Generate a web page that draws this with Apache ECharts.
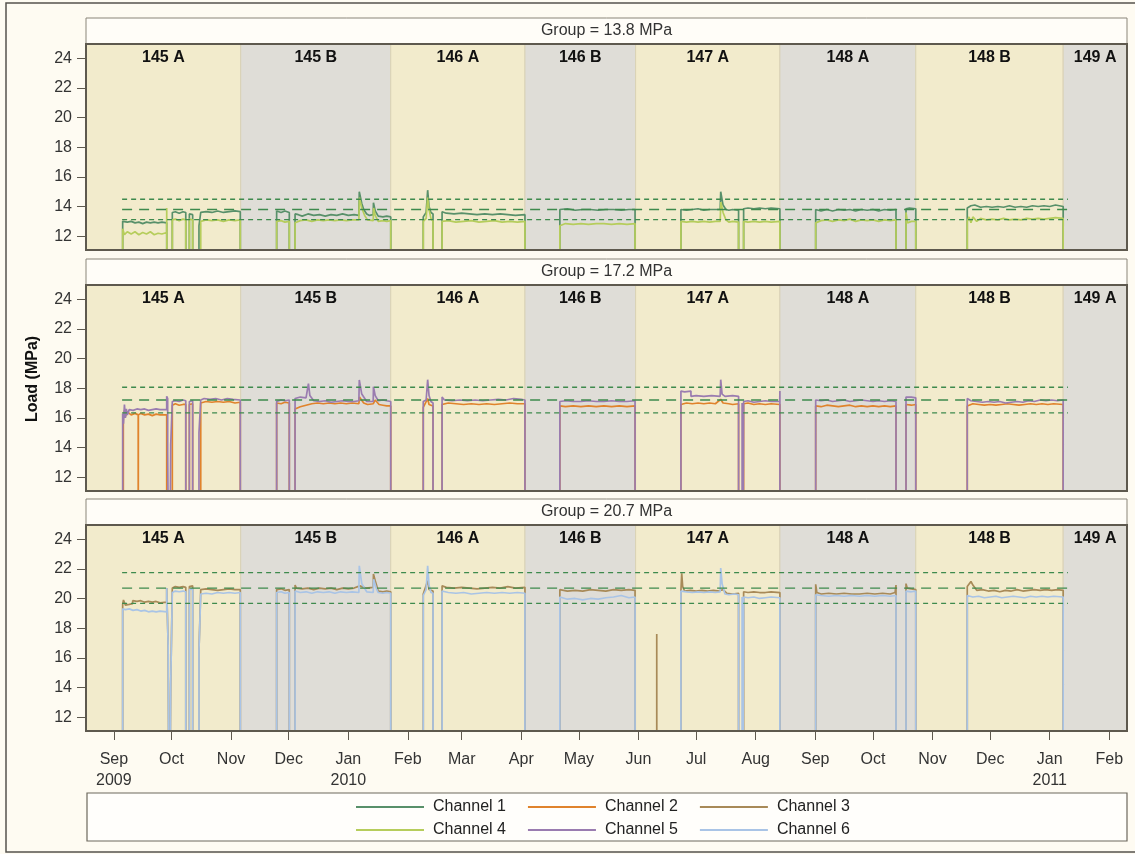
<!DOCTYPE html>
<html><head><meta charset="utf-8">
<script src="https://cdn.jsdelivr.net/npm/echarts@6/dist/echarts.min.js"></script>
<style>html,body{margin:0;padding:0;background:#fff}#c{width:1135px;height:854px}</style>
</head><body><div id="c"></div>
<script>
// ---------- DATA ----------
const groups = ['Group = 13.8 MPa', 'Group = 17.2 MPa', 'Group = 20.7 MPa'];
const refLevels138 = [13.11, 13.80, 14.49];
const refLevels172 = [16.34, 17.20, 18.06];
const refLevels207 = [19.67, 20.70, 21.74];
const refSpan = ['2009-09-05 07:00', '2011-01-10 12:00'];
const bandNames = ['145 A','145 B','146 A','146 B','147 A','148 A','148 B','149 A'];
const bandEdges = ['2009-08-17 12:00','2009-11-06 00:00','2010-01-23 02:00','2010-04-02 22:00','2010-05-30 12:00','2010-08-13 14:00','2010-10-23 07:00','2011-01-08 00:00','2011-02-10 05:00'];
const monthTicks = ['2009-09-01','2009-10-01','2009-11-01','2009-12-01','2010-01-01','2010-02-01','2010-03-01','2010-04-01','2010-05-01','2010-06-01','2010-07-01','2010-08-01','2010-09-01','2010-10-01','2010-11-01','2010-12-01','2011-01-01','2011-02-01'];
const monthLabels = ['Sep\n2009','Oct','Nov','Dec','Jan\n2010','Feb','Mar','Apr','May','Jun','Jul','Aug','Sep','Oct','Nov','Dec','Jan\n2011','Feb'];
const yTicks = [12,14,16,18,20,22,24];
const channelNames = ['Channel 1','Channel 2','Channel 3','Channel 4','Channel 5','Channel 6'];

const ch1 = [
['2009-09-05 14:00',0],['2009-09-05 14:00',13.0],['2009-09-06',13.1],['2009-09-08',12.95],['2009-09-10',13.0],['2009-09-12',12.9],['2009-09-14',12.95],['2009-09-16',12.85],['2009-09-18',12.95],['2009-09-20',12.9],['2009-09-22',12.95],['2009-09-24',12.9],['2009-09-26',12.95],['2009-09-28 12:00',12.9],['2009-09-28 12:00',0],
['2009-10-01 10:00',0],['2009-10-01 10:00',13.6],['2009-10-02',13.5],['2009-10-03',13.65],['2009-10-05',13.55],['2009-10-07',13.65],['2009-10-08 10:00',13.6],['2009-10-08 10:00',0],
['2009-10-10 07:00',0],['2009-10-10 07:00',13.5],['2009-10-12',13.45],['2009-10-12',0],
['2009-10-15 07:00',0],['2009-10-15 07:00',12.7],['2009-10-16 05:00',12.7],['2009-10-16 05:00',13.6],['2009-10-19',13.65],['2009-10-22',13.6],['2009-10-25',13.7],['2009-10-28',13.6],['2009-10-31',13.65],['2009-11-03',13.7],['2009-11-05 19:00',13.65],['2009-11-05 19:00',0],
['2009-11-24 17:00',0],['2009-11-24 17:00',13.7],['2009-11-27',13.6],['2009-11-29',13.7],['2009-12-01 07:00',13.6],['2009-12-01 07:00',0],
['2009-12-04 07:00',0],['2009-12-04 07:00',13.5],['2009-12-06',13.45],['2009-12-08',13.35],['2009-12-11',13.5],['2009-12-14',13.4],['2009-12-17',13.45],['2009-12-20',13.35],['2009-12-23',13.45],['2009-12-26',13.4],['2009-12-29',13.5],['2010-01-01',13.4],['2010-01-04',13.45],['2010-01-06 12:00',13.4],['2010-01-06 17:00',15.0],['2010-01-08',14.2],['2010-01-09',13.8],['2010-01-10 14:00',13.5],['2010-01-12',13.4],['2010-01-13 23:00',13.45],['2010-01-14 02:00',14.25],['2010-01-15',13.7],['2010-01-16 14:00',13.35],['2010-01-19',13.3],['2010-01-21',13.35],['2010-01-23 02:00',13.3],['2010-01-23 02:00',0],
['2010-02-09',0],['2010-02-09',13.3],['2010-02-10 12:00',13.6],['2010-02-11 07:00',15.1],['2010-02-12',14.0],['2010-02-13',13.6],['2010-02-14 02:00',13.5],['2010-02-14 02:00',0],
['2010-02-18 19:00',0],['2010-02-18 19:00',13.65],['2010-02-21',13.55],['2010-02-25',13.5],['2010-03-01',13.55],['2010-03-05',13.5],['2010-03-09',13.45],['2010-03-13',13.5],['2010-03-17',13.45],['2010-03-21',13.5],['2010-03-25',13.45],['2010-03-29',13.4],['2010-04-02 22:00',13.45],['2010-04-02 22:00',0],
['2010-04-21 02:00',0],['2010-04-21 02:00',13.8],['2010-04-25',13.85],['2010-04-29',13.75],['2010-05-03',13.8],['2010-05-07',13.8],['2010-05-11',13.75],['2010-05-15',13.8],['2010-05-19',13.8],['2010-05-23',13.75],['2010-05-27',13.8],['2010-05-30 05:00',13.8],['2010-05-30 05:00',0],
['2010-06-23 02:00',0],['2010-06-23 02:00',13.8],['2010-06-26',13.75],['2010-06-29',13.8],['2010-07-02',13.85],['2010-07-05',13.75],['2010-07-08',13.8],['2010-07-11',13.8],['2010-07-13 12:00',13.8],['2010-07-13 19:00',15.0],['2010-07-15',14.1],['2010-07-16 12:00',13.8],['2010-07-18',13.75],['2010-07-20',13.8],['2010-07-23 02:00',13.75],['2010-07-23 02:00',0],
['2010-07-25 17:00',0],['2010-07-25 17:00',13.85],['2010-07-28',13.9],['2010-07-31',13.85],['2010-08-03',13.9],['2010-08-06',13.85],['2010-08-09',13.9],['2010-08-13 14:00',13.85],['2010-08-13 14:00',0],
['2010-09-01 05:00',0],['2010-09-01 05:00',13.8],['2010-09-04',13.7],['2010-09-07',13.8],['2010-09-10',13.7],['2010-09-13',13.8],['2010-09-16',13.75],['2010-09-19',13.8],['2010-09-22',13.7],['2010-09-25',13.8],['2010-09-28',13.75],['2010-10-01',13.8],['2010-10-04',13.7],['2010-10-07',13.8],['2010-10-10',13.75],['2010-10-13',13.8],['2010-10-13',0],
['2010-10-18 05:00',0],['2010-10-18 05:00',13.85],['2010-10-20',13.9],['2010-10-23 07:00',13.85],['2010-10-23 07:00',0],
['2010-11-19 02:00',0],['2010-11-19 02:00',13.9],['2010-11-21',14.05],['2010-11-23',14.1],['2010-11-26',13.95],['2010-11-29',14.0],['2010-12-02',13.95],['2010-12-05',14.0],['2010-12-08',13.95],['2010-12-11',14.05],['2010-12-14',13.95],['2010-12-17',14.0],['2010-12-20',13.95],['2010-12-23',14.05],['2010-12-26',14.0],['2010-12-29',14.05],['2011-01-01',14.0],['2011-01-04',14.1],['2011-01-08',14.0],['2011-01-08',0]
];

const ch4 = [
['2009-09-05 14:00',0],['2009-09-05 14:00',12.5],['2009-09-06 12:00',12.1],['2009-09-08',12.3],['2009-09-10',12.15],['2009-09-12',12.3],['2009-09-14',12.1],['2009-09-16',12.25],['2009-09-18',12.15],['2009-09-20',12.3],['2009-09-22',12.1],['2009-09-24',12.2],['2009-09-26',12.15],['2009-09-28 12:00',12.25],['2009-09-28 12:00',13.9],['2009-09-29',13.8],['2009-09-29',0],
['2009-10-01 10:00',0],['2009-10-01 10:00',13.1],['2009-10-03',13.15],['2009-10-05',13.05],['2009-10-07',13.15],['2009-10-08 10:00',13.1],['2009-10-08 10:00',0],
['2009-10-10 07:00',0],['2009-10-10 07:00',13.15],['2009-10-11',13.2],['2009-10-12',13.1],['2009-10-12',0],
['2009-10-16 05:00',0],['2009-10-16 05:00',13.0],['2009-10-19',13.1],['2009-10-22',13.05],['2009-10-25',13.1],['2009-10-28',13.0],['2009-10-31',13.1],['2009-11-03',13.05],['2009-11-05 19:00',13.1],['2009-11-05 19:00',0],
['2009-11-24 17:00',0],['2009-11-24 17:00',13.0],['2009-11-27',13.05],['2009-11-29',12.95],['2009-12-01 07:00',13.0],['2009-12-01 07:00',0],
['2009-12-04 07:00',0],['2009-12-04 07:00',12.9],['2009-12-07',13.05],['2009-12-10',13.1],['2009-12-13',13.0],['2009-12-16',13.1],['2009-12-19',13.05],['2009-12-22',13.1],['2009-12-25',13.05],['2009-12-28',13.1],['2009-12-31',13.05],['2010-01-03',13.1],['2010-01-06 12:00',13.1],['2010-01-06 19:00',14.6],['2010-01-08',13.9],['2010-01-09 12:00',13.4],['2010-01-11',13.1],['2010-01-13 23:00',13.05],['2010-01-14 04:00',13.9],['2010-01-15',13.4],['2010-01-16 14:00',13.0],['2010-01-19',13.05],['2010-01-21',13.0],['2010-01-23 02:00',13.05],['2010-01-23 02:00',0],
['2010-02-09',0],['2010-02-09',13.0],['2010-02-10 12:00',13.2],['2010-02-11 07:00',14.6],['2010-02-12',13.8],['2010-02-13',13.2],['2010-02-14 02:00',13.0],['2010-02-14 02:00',0],
['2010-02-18 19:00',0],['2010-02-18 19:00',13.0],['2010-02-22',13.05],['2010-02-26',12.95],['2010-03-02',13.0],['2010-03-06',13.05],['2010-03-10',12.95],['2010-03-14',13.0],['2010-03-18',13.05],['2010-03-22',12.95],['2010-03-26',13.0],['2010-03-30',12.95],['2010-04-02 22:00',13.0],['2010-04-02 22:00',0],
['2010-04-21 02:00',0],['2010-04-21 02:00',12.7],['2010-04-24',12.85],['2010-04-28',12.8],['2010-05-02',12.85],['2010-05-06',12.8],['2010-05-10',12.85],['2010-05-14',12.85],['2010-05-18',12.8],['2010-05-22',12.85],['2010-05-26',12.8],['2010-05-30 05:00',12.85],['2010-05-30 05:00',0],
['2010-06-23 02:00',0],['2010-06-23 02:00',13.0],['2010-06-26',12.95],['2010-06-29',13.0],['2010-07-02',12.95],['2010-07-05',13.0],['2010-07-08',12.95],['2010-07-11',13.0],['2010-07-13 12:00',13.0],['2010-07-13 21:00',14.3],['2010-07-15',13.6],['2010-07-16 12:00',13.1],['2010-07-18',12.95],['2010-07-20',13.0],['2010-07-23 02:00',12.95],['2010-07-23 02:00',0],
['2010-07-25 17:00',0],['2010-07-25 17:00',13.0],['2010-07-28',12.95],['2010-07-31',13.0],['2010-08-03',12.95],['2010-08-06',13.0],['2010-08-09',12.95],['2010-08-13 14:00',13.0],['2010-08-13 14:00',0],
['2010-09-01 05:00',0],['2010-09-01 05:00',12.9],['2010-09-04',13.05],['2010-09-07',13.1],['2010-09-10',13.0],['2010-09-13',13.1],['2010-09-16',13.05],['2010-09-19',13.15],['2010-09-22',13.0],['2010-09-25',13.1],['2010-09-28',13.05],['2010-10-01',13.1],['2010-10-04',13.0],['2010-10-07',13.1],['2010-10-10',13.05],['2010-10-13',13.1],['2010-10-13',0],
['2010-10-18 05:00',0],['2010-10-18 05:00',13.6],['2010-10-19',12.9],['2010-10-21',13.0],['2010-10-23 07:00',13.0],['2010-10-23 07:00',0],
['2010-11-19 02:00',0],['2010-11-19 02:00',13.0],['2010-11-20',13.3],['2010-11-21',12.9],['2010-11-22',13.3],['2010-11-24',13.0],['2010-11-26',13.2],['2010-11-29',13.1],['2010-12-02',13.15],['2010-12-05',13.1],['2010-12-08',13.2],['2010-12-11',13.1],['2010-12-14',13.15],['2010-12-17',13.1],['2010-12-20',13.2],['2010-12-23',13.15],['2010-12-26',13.2],['2010-12-29',13.15],['2011-01-01',13.2],['2011-01-04',13.25],['2011-01-08',13.2],['2011-01-08',0]
];

const ch2 = [
['2009-09-05 22:00',0],['2009-09-05 22:00',16.0],['2009-09-06 12:00',16.5],['2009-09-07',16.1],['2009-09-08',16.4],['2009-09-10',16.2],['2009-09-12',16.3],['2009-09-13 16:00',16.2],['2009-09-13 16:00',0],['2009-09-13 18:00',0],['2009-09-13 18:00',16.2],['2009-09-15',16.3],['2009-09-17',16.2],['2009-09-19',16.25],['2009-09-21',16.15],['2009-09-23',16.25],['2009-09-25',16.2],['2009-09-28 12:00',16.2],['2009-09-28 12:00',0],
['2009-10-01 10:00',0],['2009-10-01 10:00',16.85],['2009-10-03',16.95],['2009-10-05',16.85],['2009-10-07',16.9],['2009-10-08 10:00',16.9],['2009-10-08 10:00',0],
['2009-10-10 07:00',0],['2009-10-10 07:00',16.9],['2009-10-12',16.95],['2009-10-12',0],
['2009-10-16 05:00',0],['2009-10-16 05:00',17.0],['2009-10-19',17.1],['2009-10-22',17.05],['2009-10-25',17.1],['2009-10-28',17.05],['2009-10-31',17.1],['2009-11-03',17.0],['2009-11-05 19:00',17.05],['2009-11-05 19:00',0],
['2009-11-24 17:00',0],['2009-11-24 17:00',17.0],['2009-11-27',16.95],['2009-11-29',17.05],['2009-12-01 07:00',17.0],['2009-12-01 07:00',0],
['2009-12-04 07:00',0],['2009-12-04 07:00',16.6],['2009-12-07',16.75],['2009-12-10',16.85],['2009-12-13',16.95],['2009-12-16',17.0],['2009-12-19',16.95],['2009-12-22',17.0],['2009-12-25',16.95],['2009-12-28',17.0],['2009-12-31',16.95],['2010-01-03',17.0],['2010-01-06 12:00',16.95],['2010-01-06 19:00',17.4],['2010-01-09',17.0],['2010-01-11',16.9],['2010-01-14',16.95],['2010-01-15',17.2],['2010-01-17',16.9],['2010-01-19',16.85],['2010-01-21',16.8],['2010-01-23 02:00',16.8],['2010-01-23 02:00',0],
['2010-02-09',0],['2010-02-09',16.7],['2010-02-11 07:00',17.3],['2010-02-12',16.9],['2010-02-14 02:00',16.8],['2010-02-14 02:00',0],
['2010-02-18 19:00',0],['2010-02-18 19:00',16.9],['2010-02-22',17.0],['2010-02-26',16.95],['2010-03-02',16.9],['2010-03-06',16.95],['2010-03-10',16.9],['2010-03-14',16.95],['2010-03-18',16.9],['2010-03-22',16.95],['2010-03-26',17.0],['2010-03-30',16.95],['2010-04-02 22:00',16.95],['2010-04-02 22:00',0],
['2010-04-21 02:00',0],['2010-04-21 02:00',16.8],['2010-04-24',16.75],['2010-04-28',16.8],['2010-05-02',16.75],['2010-05-06',16.8],['2010-05-10',16.75],['2010-05-14',16.8],['2010-05-18',16.75],['2010-05-22',16.8],['2010-05-26',16.75],['2010-05-30 05:00',16.8],['2010-05-30 05:00',0],
['2010-06-23 02:00',0],['2010-06-23 02:00',16.9],['2010-06-26',17.0],['2010-06-29',16.95],['2010-07-02',17.0],['2010-07-05',16.95],['2010-07-08',17.0],['2010-07-11',16.95],['2010-07-13 19:00',17.25],['2010-07-15',17.0],['2010-07-18',16.95],['2010-07-20',16.9],['2010-07-23 02:00',16.95],['2010-07-23 02:00',0],
['2010-07-25 17:00',0],['2010-07-25 17:00',16.95],['2010-07-28',17.0],['2010-07-31',16.9],['2010-08-03',16.95],['2010-08-06',16.9],['2010-08-09',16.95],['2010-08-13 14:00',16.9],['2010-08-13 14:00',0],
['2010-09-01 05:00',0],['2010-09-01 05:00',16.8],['2010-09-04',16.75],['2010-09-07',16.85],['2010-09-10',16.8],['2010-09-13',16.75],['2010-09-16',16.8],['2010-09-19',16.85],['2010-09-22',16.75],['2010-09-25',16.8],['2010-09-28',16.75],['2010-10-01',16.8],['2010-10-04',16.75],['2010-10-07',16.8],['2010-10-10',16.75],['2010-10-13',16.8],['2010-10-13',0],
['2010-10-18 05:00',0],['2010-10-18 05:00',16.9],['2010-10-21',16.85],['2010-10-23 07:00',16.9],['2010-10-23 07:00',0],
['2010-11-19 02:00',0],['2010-11-19 02:00',16.8],['2010-11-22',16.95],['2010-11-25',16.9],['2010-11-28',16.85],['2010-12-01',16.9],['2010-12-04',16.85],['2010-12-07',16.9],['2010-12-10',16.95],['2010-12-13',16.9],['2010-12-16',16.85],['2010-12-19',16.9],['2010-12-22',16.95],['2010-12-25',16.9],['2010-12-28',16.95],['2010-12-31',16.9],['2011-01-03',16.95],['2011-01-08',16.9],['2011-01-08',0]
];

const ch5 = [
['2009-09-05 14:00',0],['2009-09-05 14:00',16.3],['2009-09-06',15.6],['2009-09-06 12:00',16.9],['2009-09-07',16.0],['2009-09-07 12:00',16.6],['2009-09-08',16.2],['2009-09-09',16.55],['2009-09-11',16.5],['2009-09-13',16.6],['2009-09-15',16.55],['2009-09-17',16.6],['2009-09-19',16.5],['2009-09-21',16.55],['2009-09-23',16.6],['2009-09-25',16.55],['2009-09-28 12:00',16.55],['2009-09-28 12:00',17.45],['2009-09-29',17.3],['2009-09-29',13.75],['2009-09-29 20:00',13.75],['2009-09-29 20:00',0],['2009-09-30 14:00',0],['2009-09-30 14:00',14.2],['2009-10-01 10:00',14.2],['2009-10-01 10:00',17.1],
['2009-10-03',17.15],['2009-10-05',17.1],['2009-10-07',17.2],['2009-10-08 10:00',17.15],['2009-10-08 10:00',0],
['2009-10-10 07:00',0],['2009-10-10 07:00',17.1],['2009-10-12',17.15],['2009-10-12',0],
['2009-10-15 07:00',0],['2009-10-15 07:00',15.0],['2009-10-16 05:00',15.0],['2009-10-16 05:00',17.2],['2009-10-18',17.3],['2009-10-21',17.25],['2009-10-24',17.3],['2009-10-27',17.2],['2009-10-30',17.3],['2009-11-02',17.25],['2009-11-05 19:00',17.2],['2009-11-05 19:00',0],
['2009-11-24 17:00',0],['2009-11-24 17:00',17.1],['2009-11-27',17.2],['2009-11-29',17.15],['2009-12-01 07:00',17.2],['2009-12-01 07:00',0],
['2009-12-04 07:00',0],['2009-12-04 07:00',17.3],['2009-12-07',17.4],['2009-12-10',17.35],['2009-12-11 06:00',18.3],['2009-12-12',17.5],['2009-12-14',17.15],['2009-12-17',17.1],['2009-12-20',17.15],['2009-12-23',17.05],['2009-12-26',17.1],['2009-12-29',17.15],['2010-01-01',17.1],['2010-01-04',17.1],['2010-01-06 12:00',17.15],['2010-01-06 17:00',18.55],['2010-01-08',17.6],['2010-01-10 14:00',17.1],['2010-01-13 23:00',17.1],['2010-01-14 02:00',18.1],['2010-01-15',17.5],['2010-01-16 14:00',17.15],['2010-01-19',17.2],['2010-01-21',17.15],['2010-01-23 02:00',17.1],['2010-01-23 02:00',0],
['2010-02-09',0],['2010-02-09',17.1],['2010-02-10 12:00',17.2],['2010-02-11 07:00',18.57],['2010-02-12',17.5],['2010-02-13',17.1],['2010-02-14 02:00',17.0],['2010-02-14 02:00',0],
['2010-02-18 19:00',0],['2010-02-18 19:00',17.4],['2010-02-20',17.2],['2010-02-24',17.15],['2010-02-28',17.2],['2010-03-04',17.15],['2010-03-08',17.2],['2010-03-12',17.15],['2010-03-16',17.2],['2010-03-20',17.25],['2010-03-24',17.2],['2010-03-28',17.3],['2010-04-01',17.25],['2010-04-02 22:00',17.2],['2010-04-02 22:00',0],
['2010-04-21 02:00',0],['2010-04-21 02:00',17.1],['2010-04-24',17.15],['2010-04-28',17.1],['2010-05-02',17.1],['2010-05-06',17.15],['2010-05-10',17.1],['2010-05-14',17.1],['2010-05-18',17.15],['2010-05-22',17.1],['2010-05-26',17.1],['2010-05-30 05:00',17.15],['2010-05-30 05:00',0],
['2010-06-23 02:00',0],['2010-06-23 02:00',17.8],['2010-06-25',17.75],['2010-06-28 07:00',17.8],['2010-06-28 07:00',17.45],['2010-07-01',17.5],['2010-07-05',17.45],['2010-07-09',17.5],['2010-07-13 12:00',17.45],['2010-07-13 19:00',18.57],['2010-07-14 12:00',17.6],['2010-07-16',17.45],['2010-07-20',17.5],['2010-07-23 02:00',17.45],['2010-07-23 02:00',0],
['2010-07-24 22:00',0],['2010-07-24 22:00',17.0],['2010-07-25 06:00',17.0],['2010-07-25 06:00',0],['2010-07-25 17:00',0],['2010-07-25 17:00',17.1],['2010-07-28',17.15],['2010-07-31',17.05],['2010-08-03',17.1],['2010-08-06',17.15],['2010-08-09',17.1],['2010-08-13 12:00',17.1],['2010-08-13 14:00',17.8],['2010-08-13 14:00',0],
['2010-09-01 05:00',0],['2010-09-01 05:00',17.2],['2010-09-04',17.15],['2010-09-07',17.2],['2010-09-10',17.1],['2010-09-13',17.15],['2010-09-16',17.2],['2010-09-19',17.1],['2010-09-22',17.15],['2010-09-25',17.2],['2010-09-28',17.15],['2010-10-01',17.1],['2010-10-04',17.15],['2010-10-07',17.1],['2010-10-10',17.15],['2010-10-13',17.1],['2010-10-13',0],
['2010-10-18 05:00',0],['2010-10-18 05:00',17.4],['2010-10-21',17.4],['2010-10-23 07:00',17.35],['2010-10-23 07:00',0],
['2010-11-19 02:00',0],['2010-11-19 02:00',17.3],['2010-11-21',17.15],['2010-11-24',17.1],['2010-11-27',17.05],['2010-11-30',17.1],['2010-12-03',17.05],['2010-12-06',17.1],['2010-12-09',17.0],['2010-12-12',17.05],['2010-12-15',17.1],['2010-12-18',17.05],['2010-12-21',17.15],['2010-12-24',17.1],['2010-12-27',17.2],['2010-12-30',17.15],['2011-01-02',17.2],['2011-01-05',17.15],['2011-01-08',17.2],['2011-01-08',0]
];

const ch3 = [
['2009-09-05 14:00',0],['2009-09-05 14:00',19.6],['2009-09-06',19.9],['2009-09-07',19.55],['2009-09-09',19.6],['2009-09-10 19:00',19.65],['2009-09-10 19:00',19.85],['2009-09-13',19.8],['2009-09-15',19.85],['2009-09-17',19.75],['2009-09-19',19.8],['2009-09-21',19.75],['2009-09-23',19.8],['2009-09-25',19.7],['2009-09-28 12:00',19.75],['2009-09-28 12:00',20.7],['2009-09-29 06:00',20.7],['2009-09-29 06:00',16.8],['2009-09-29 20:00',16.8],['2009-09-29 20:00',0],
['2009-09-30 14:00',0],['2009-09-30 14:00',14.2],['2009-10-01 10:00',14.2],['2009-10-01 10:00',20.7],['2009-10-03',20.8],['2009-10-05',20.75],['2009-10-07',20.8],['2009-10-08 10:00',20.75],['2009-10-08 10:00',0],
['2009-10-10 07:00',0],['2009-10-10 07:00',20.8],['2009-10-12',20.85],['2009-10-12',0],
['2009-10-15 07:00',0],['2009-10-15 07:00',16.5],['2009-10-16 05:00',16.5],['2009-10-16 05:00',20.6],['2009-10-19',20.65],['2009-10-22',20.6],['2009-10-25',20.55],['2009-10-28',20.6],['2009-10-31',20.65],['2009-11-03',20.6],['2009-11-05 19:00',20.6],['2009-11-05 19:00',0],
['2009-11-24 17:00',0],['2009-11-24 17:00',20.6],['2009-11-27',20.65],['2009-11-29',20.55],['2009-12-01 07:00',20.6],['2009-12-01 07:00',0],
['2009-12-04 07:00',0],['2009-12-04 07:00',20.9],['2009-12-05',20.7],['2009-12-08',20.65],['2009-12-11',20.7],['2009-12-14',20.6],['2009-12-17',20.7],['2009-12-20',20.65],['2009-12-23',20.7],['2009-12-26',20.6],['2009-12-29',20.7],['2010-01-01',20.65],['2010-01-04',20.7],['2010-01-07',20.85],['2010-01-10',20.7],['2010-01-13 23:00',20.75],['2010-01-14 02:00',21.65],['2010-01-15',21.2],['2010-01-16 14:00',20.5],['2010-01-19',20.45],['2010-01-21',20.5],['2010-01-23 02:00',20.45],['2010-01-23 02:00',0],
['2010-02-09',0],['2010-02-09',20.3],['2010-02-11 07:00',21.2],['2010-02-12',20.6],['2010-02-14 02:00',20.5],['2010-02-14 02:00',0],
['2010-02-18 19:00',0],['2010-02-18 19:00',20.85],['2010-02-21',20.75],['2010-02-25',20.7],['2010-03-01',20.75],['2010-03-05',20.7],['2010-03-09',20.65],['2010-03-13',20.7],['2010-03-17',20.75],['2010-03-21',20.7],['2010-03-25',20.8],['2010-03-29',20.7],['2010-04-02 22:00',20.75],['2010-04-02 22:00',0],
['2010-04-21 02:00',0],['2010-04-21 02:00',20.6],['2010-04-25',20.5],['2010-04-29',20.55],['2010-05-03',20.5],['2010-05-07',20.6],['2010-05-11',20.55],['2010-05-15',20.5],['2010-05-19',20.6],['2010-05-23',20.55],['2010-05-27',20.6],['2010-05-30 05:00',20.55],['2010-05-30 05:00',0],
['2010-06-10 12:00',0],['2010-06-10 12:00',17.6],['2010-06-10 14:00',0],
['2010-06-23 02:00',0],['2010-06-23 02:00',20.5],['2010-06-23 12:00',21.7],['2010-06-24',20.8],['2010-06-25',20.5],['2010-06-28',20.55],['2010-07-01',20.5],['2010-07-04',20.55],['2010-07-07',20.5],['2010-07-10',20.55],['2010-07-13',20.5],['2010-07-15',20.6],['2010-07-17',20.35],['2010-07-20',20.3],['2010-07-23 02:00',20.35],['2010-07-23 02:00',0],
['2010-07-25 17:00',0],['2010-07-25 17:00',20.45],['2010-07-28',20.4],['2010-07-31',20.45],['2010-08-03',20.4],['2010-08-06',20.4],['2010-08-09',20.45],['2010-08-13 14:00',20.4],['2010-08-13 14:00',0],
['2010-09-01 05:00',0],['2010-09-01 05:00',20.95],['2010-09-01 20:00',20.4],['2010-09-04',20.3],['2010-09-08',20.35],['2010-09-12',20.3],['2010-09-16',20.35],['2010-09-20',20.3],['2010-09-24',20.3],['2010-09-28',20.35],['2010-10-02',20.3],['2010-10-06',20.35],['2010-10-10',20.3],['2010-10-12 12:00',20.4],['2010-10-13',20.9],['2010-10-13',0],
['2010-10-18 05:00',0],['2010-10-18 05:00',21.0],['2010-10-18 20:00',20.7],['2010-10-21',20.65],['2010-10-23 07:00',20.6],['2010-10-23 07:00',0],
['2010-11-19 02:00',0],['2010-11-19 02:00',20.8],['2010-11-21',21.15],['2010-11-22',20.9],['2010-11-24',20.55],['2010-11-27',20.6],['2010-11-30',20.5],['2010-12-03',20.55],['2010-12-06',20.45],['2010-12-09',20.55],['2010-12-12',20.5],['2010-12-15',20.6],['2010-12-18',20.5],['2010-12-21',20.55],['2010-12-24',20.6],['2010-12-27',20.55],['2010-12-30',20.6],['2011-01-02',20.55],['2011-01-05',20.6],['2011-01-08',20.55],['2011-01-08',0]
];

const ch6 = [
['2009-09-05 14:00',0],['2009-09-05 14:00',19.3],['2009-09-07',19.25],['2009-09-09',19.3],['2009-09-11',19.2],['2009-09-13',19.25],['2009-09-15',19.15],['2009-09-17',19.2],['2009-09-19',19.1],['2009-09-21',19.15],['2009-09-23',19.1],['2009-09-25',19.15],['2009-09-28 12:00',19.1],['2009-09-28 12:00',20.7],['2009-09-29 06:00',20.7],['2009-09-29 06:00',16.8],['2009-09-29 20:00',16.8],['2009-09-29 20:00',0],['2009-09-30 14:00',0],['2009-09-30 14:00',14.2],['2009-10-01 10:00',14.2],['2009-10-01 10:00',20.4],
['2009-10-03',20.5],['2009-10-05',20.45],['2009-10-07',20.5],['2009-10-08 10:00',20.45],['2009-10-08 10:00',0],
['2009-10-10 07:00',0],['2009-10-10 07:00',20.6],['2009-10-12',20.65],['2009-10-12',0],
['2009-10-15 07:00',0],['2009-10-15 07:00',16.5],['2009-10-16 05:00',16.5],['2009-10-16 05:00',20.3],['2009-10-19',20.35],['2009-10-22',20.3],['2009-10-25',20.4],['2009-10-28',20.35],['2009-10-31',20.4],['2009-11-03',20.35],['2009-11-05 19:00',20.4],['2009-11-05 19:00',0],
['2009-11-24 17:00',0],['2009-11-24 17:00',20.4],['2009-11-27',20.45],['2009-11-29',20.35],['2009-12-01 07:00',20.4],['2009-12-01 07:00',0],
['2009-12-04 07:00',0],['2009-12-04 07:00',20.5],['2009-12-07',20.4],['2009-12-10',20.45],['2009-12-13',20.35],['2009-12-16',20.45],['2009-12-19',20.4],['2009-12-22',20.45],['2009-12-25',20.35],['2009-12-28',20.45],['2009-12-31',20.4],['2010-01-03',20.45],['2010-01-06 12:00',20.4],['2010-01-06 17:00',22.2],['2010-01-08',21.0],['2010-01-10 14:00',20.45],['2010-01-13 23:00',20.4],['2010-01-14 04:00',21.3],['2010-01-15 12:00',20.7],['2010-01-16 14:00',20.4],['2010-01-19',20.35],['2010-01-21',20.4],['2010-01-23 02:00',20.35],['2010-01-23 02:00',0],
['2010-02-09',0],['2010-02-09',20.2],['2010-02-10 12:00',20.6],['2010-02-11 07:00',22.2],['2010-02-12',20.9],['2010-02-13',20.4],['2010-02-14 02:00',20.35],['2010-02-14 02:00',0],
['2010-02-18 19:00',0],['2010-02-18 19:00',20.5],['2010-02-22',20.4],['2010-02-26',20.35],['2010-03-02',20.4],['2010-03-06',20.3],['2010-03-10',20.35],['2010-03-14',20.4],['2010-03-18',20.35],['2010-03-22',20.4],['2010-03-26',20.35],['2010-03-30',20.4],['2010-04-02 22:00',20.35],['2010-04-02 22:00',0],
['2010-04-21 02:00',0],['2010-04-21 02:00',20.1],['2010-04-25',19.95],['2010-04-29',20.0],['2010-05-03',19.9],['2010-05-07',20.0],['2010-05-11',19.95],['2010-05-15',20.05],['2010-05-19',20.1],['2010-05-23',20.2],['2010-05-27',20.05],['2010-05-30 05:00',20.1],['2010-05-30 05:00',0],
['2010-06-23 02:00',0],['2010-06-23 02:00',20.5],['2010-06-26',20.45],['2010-06-29',20.4],['2010-07-02',20.45],['2010-07-05',20.4],['2010-07-08',20.45],['2010-07-11',20.4],['2010-07-13 12:00',20.45],['2010-07-13 19:00',22.05],['2010-07-14 12:00',21.0],['2010-07-16',20.3],['2010-07-18',20.25],['2010-07-21',20.3],['2010-07-23 02:00',20.25],['2010-07-23 02:00',0],
['2010-07-24 22:00',0],['2010-07-24 22:00',20.1],['2010-07-25 06:00',20.1],['2010-07-25 06:00',0],['2010-07-25 17:00',0],['2010-07-25 17:00',20.1],['2010-07-28',20.05],['2010-07-31',20.1],['2010-08-03',20.0],['2010-08-06',20.05],['2010-08-09',20.1],['2010-08-13 14:00',20.05],['2010-08-13 14:00',0],
['2010-09-01 05:00',0],['2010-09-01 05:00',20.25],['2010-09-04',20.2],['2010-09-08',20.15],['2010-09-12',20.2],['2010-09-16',20.15],['2010-09-20',20.2],['2010-09-24',20.15],['2010-09-28',20.2],['2010-10-02',20.15],['2010-10-06',20.2],['2010-10-10',20.15],['2010-10-13',20.2],['2010-10-13',0],
['2010-10-18 05:00',0],['2010-10-18 05:00',20.5],['2010-10-21',20.45],['2010-10-23 07:00',20.5],['2010-10-23 07:00',0],
['2010-11-19 02:00',0],['2010-11-19 02:00',20.2],['2010-11-22',20.1],['2010-11-25',20.15],['2010-11-28',20.05],['2010-12-01',20.1],['2010-12-04',20.15],['2010-12-07',20.05],['2010-12-10',20.1],['2010-12-13',20.15],['2010-12-16',20.1],['2010-12-19',20.05],['2010-12-22',20.15],['2010-12-25',20.1],['2010-12-28',20.15],['2010-12-31',20.1],['2011-01-03',20.15],['2011-01-08',20.1],['2011-01-08',0]
];

// ---------- STYLE / LAYOUT ----------
const FONT = 'Liberation Sans, Arial, sans-serif';
const colors = {
  'Channel 1':'#58906a','Channel 2':'#e0832c','Channel 3':'#a88a58',
  'Channel 4':'#b6cd5c','Channel 5':'#9a7cb0','Channel 6':'#a9c4e6'
};
const bandFill = ['#f2ebcc','#dfddd7'];
const panelTops = [44, 285, 525];
const PLOT_L = 86, PLOT_W = 1041, PLOT_H = 206;
const Y_MIN = 11.07, Y_MAX = 24.95;
const ts = s => echarts.time.parse(s).getTime();
const toXY = arr => arr.map(p => [ts(p[0]), p[1]]);
const tickVals = monthTicks.map(ts);

const chart = echarts.init(document.getElementById('c'), null, {renderer:'canvas'});

const grids = panelTops.map(t => ({left: PLOT_L, top: t, width: PLOT_W, height: PLOT_H, show:false, containLabel:false}));
const xAxes = panelTops.map((t, i) => ({
  type:'value', gridIndex:i, min: ts(bandEdges[0]), max: ts(bandEdges[bandEdges.length-1]),
  show: i === 2, scale:true,
  axisLine:{show:true, lineStyle:{color:'#5e594e', width:1}},
  axisTick:{show:true, length:9, lineStyle:{color:'#5e594e'}, customValues: tickVals},
  axisLabel:{show:true, customValues: tickVals, margin:18, fontSize:16, lineHeight:21, color:'#333', fontFamily:FONT,
    formatter: v => { let k = 0, best = Infinity; tickVals.forEach((t, j) => { const d = Math.abs(t - v); if (d < best) { best = d; k = j; } }); return monthLabels[k]; }},
  splitLine:{show:false}, minorTick:{show:false}
}));
const yAxes = panelTops.map((t, i) => ({
  type:'value', gridIndex:i, min:Y_MIN, max:Y_MAX,
  axisLine:{show:true, lineStyle:{color:'#5e594e', width:1}},
  axisTick:{show:true, length:9, lineStyle:{color:'#5e594e'}, customValues: yTicks},
  axisLabel:{show:true, customValues: yTicks, margin:14, fontSize:16, color:'#333', fontFamily:FONT},
  splitLine:{show:false}
}));

const series = [];
for (let g = 0; g < 3; g++) {
  const areas = bandNames.map((n, k) => [
    {name:n, xAxis: ts(bandEdges[k]), itemStyle:{color: bandFill[k % 2], borderColor:'#d9d2b6', borderWidth:1}},
    {xAxis: ts(bandEdges[k+1])}
  ]);
  series.push({type:'line', name:'bands'+g, xAxisIndex:g, yAxisIndex:g, data:[], silent:true, z:1,
    markArea:{silent:true, data:areas, label:{show:true, position:'insideTop', distance:6, color:'#111', fontWeight:'bold', fontSize:16, fontFamily:FONT}}});
}
const panelChannels = [[['Channel 1', ch1], ['Channel 4', ch4]], [['Channel 2', ch2], ['Channel 5', ch5]], [['Channel 3', ch3], ['Channel 6', ch6]]];
panelChannels.forEach((pcs, g) => pcs.forEach(([name, d], j) => {
  series.push({type:'line', name, xAxisIndex:g, yAxisIndex:g, data:toXY(d), symbol:'none', showSymbol:false, clip:true, silent:true,
    z: 3 + j, lineStyle:{color: colors[name], width:1.7}, itemStyle:{color: colors[name]}});
}));
const refSets = [refLevels138, refLevels172, refLevels207];
refSets.forEach((lv, g) => lv.forEach((v, j) => {
  series.push({type:'line', name:'ref'+g+'_'+j, xAxisIndex:g, yAxisIndex:g, symbol:'none', silent:true, z:6,
    data:[[ts(refSpan[0]), v], [ts(refSpan[1]), v]],
    lineStyle:{color:'#3e8a4d', width:1.3, type: j === 1 ? [10,7] : [5,4]}});
}));

const graphic = [];
graphic.push({type:'rect', shape:{x:6, y:3, width:1160, height:849}, style:{fill:'none', stroke:'#55534d', lineWidth:1.5}, z:100, silent:true});
panelTops.forEach((t, g) => {
  graphic.push({type:'rect', shape:{x:PLOT_L, y:t-26, width:PLOT_W, height:26}, style:{fill:'#fffdf8', stroke:'#8a8579', lineWidth:1}, z:100, silent:true});
  graphic.push({type:'text', x: PLOT_L + PLOT_W/2, y: t-13, style:{text: groups[g], fill:'#333', font:'16px ' + FONT, textAlign:'center', textVerticalAlign:'middle'}, z:101, silent:true});
  graphic.push({type:'rect', shape:{x:PLOT_L, y:t, width:PLOT_W, height:PLOT_H}, style:{fill:'none', stroke:'#5e594e', lineWidth:2}, z:102, silent:true});
});
graphic.push({type:'text', x:33, y:379, rotation:Math.PI/2, style:{text:'Load (MPa)', fill:'#111', font:'bold 16px ' + FONT, textAlign:'center', textVerticalAlign:'middle'}, z:101, silent:true});
graphic.push({type:'rect', shape:{x:87, y:793, width:1040, height:48}, style:{fill:'#fffefb', stroke:'#6d685d', lineWidth:1.2}, z:100, silent:true});

const legendCommon = {orient:'horizontal', icon:'rect', itemWidth:68, itemHeight:2, itemGap:22, selectedMode:false, padding:0,
  textStyle:{fontSize:16, color:'#222', fontFamily:FONT, padding:[0,0,0,4]}, z:110};
const legends = [
  Object.assign({}, legendCommon, {left:356, top:799, data:['Channel 1','Channel 2','Channel 3']}),
  Object.assign({}, legendCommon, {left:356, top:822, data:['Channel 4','Channel 5','Channel 6']})
];

chart.setOption({
  animation:false, backgroundColor:'#fefbf2',
  grid: grids, xAxis: xAxes, yAxis: yAxes, series, graphic, legend: legends
});
</script></body></html>
